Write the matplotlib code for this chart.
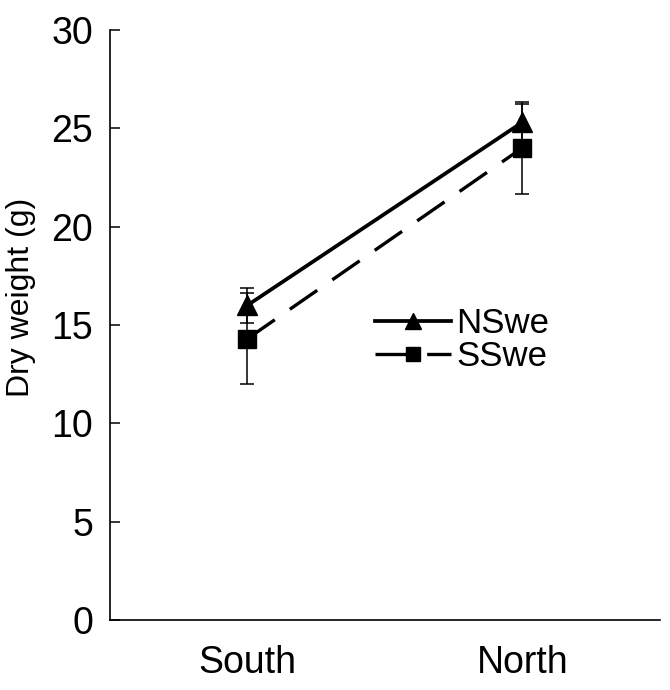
import matplotlib
matplotlib.use('Agg')
import matplotlib.pyplot as plt
from matplotlib.lines import Line2D

plt.rcParams['font.family'] = ['Liberation Sans', 'DejaVu Sans']

# data
sites = ['South', 'North']
nswe_mean = [16.0, 25.3]
nswe_err = [0.9, 0.95]
sswe_mean = [14.3, 24.0]
sswe_err = [2.3, 2.35]
y_ticks = [0, 5, 10, 15, 20, 25, 30]

fig = plt.figure(figsize=(6.7, 6.9), dpi=100)
ax = fig.add_axes([0.164, 0.101, 0.821, 0.856])

x = list(range(len(sites)))

sswe_style = dict(color='black', marker='s', linestyle=(0, (10, 5.5)), linewidth=2.4)
nswe_style = dict(color='black', marker='^', linestyle='-', linewidth=2.7)

ax.errorbar(x, sswe_mean, yerr=sswe_err, markersize=13.5, elinewidth=1.1,
            capsize=5, capthick=1.1, zorder=3, **sswe_style)
ax.errorbar(x, nswe_mean, yerr=nswe_err, markersize=15, elinewidth=1.1,
            capsize=5, capthick=1.1, zorder=4, **nswe_style)

ax.set_xlim(-0.5, 1.5)
ax.set_ylim(0, 30)
ax.set_xticks(x)
ax.set_xticklabels(sites, fontsize=27)
ax.set_yticks(y_ticks)
ax.set_yticklabels([str(t) for t in y_ticks], fontsize=27)
ax.tick_params(axis='y', direction='in', length=7, width=1.1, pad=12)
ax.tick_params(axis='x', length=0, pad=18)
ax.set_ylabel('Dry weight (g)', fontsize=23)
ax.yaxis.set_label_coords(-0.135, 0.547)

for side in ['top', 'right']:
    ax.spines[side].set_visible(False)
for side in ['left', 'bottom']:
    ax.spines[side].set_linewidth(1.2)

# legend handles without the error bars
handles = [Line2D([], [], markersize=11, **nswe_style),
           Line2D([], [], markersize=10, **sswe_style)]
ax.legend(handles, ['NSwe', 'SSwe'], loc='center left',
          bbox_to_anchor=(0.482, 0.474), frameon=False, fontsize=25,
          handlelength=2.2, handletextpad=0.15, labelspacing=0.0,
          borderpad=0, borderaxespad=0)

fig.savefig('out.png', dpi=100)
